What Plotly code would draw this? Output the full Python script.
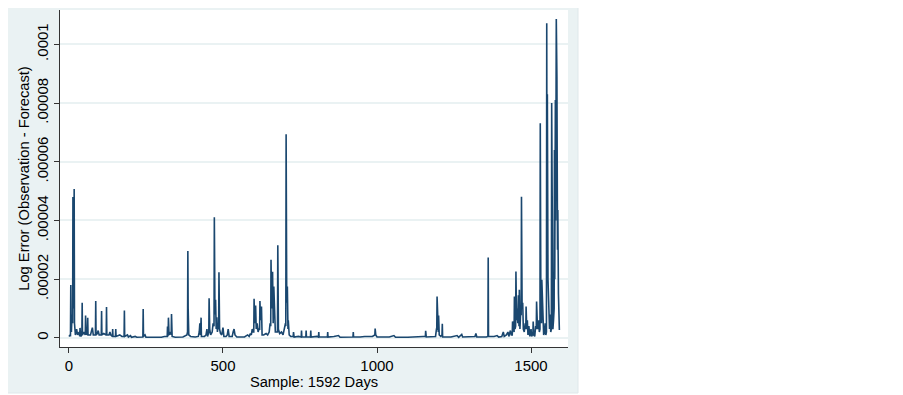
import plotly.graph_objects as go

# Day index and log error (observation - forecast, in units of 1e-6)
days = [0, 4, 5, 6, 7, 8, 10, 12, 13, 15, 17, 18, 19, 21, 25, 28, 33, 35, 36, 38, 42, 43, 44, 48, 51, 53, 54,
        56, 57, 60, 61, 62, 70, 73, 76, 79, 86, 87, 88, 92, 95, 98, 105, 106, 107, 113, 121, 122, 123, 130, 133,
        136, 141, 142, 143, 151, 152, 153, 165, 172, 179, 180, 181, 190, 193, 200, 203, 215, 220, 240, 241, 242,
        247, 250, 300, 310, 319, 320, 321, 322, 323, 325, 330, 332, 333, 335, 345, 370, 383, 385, 386, 387, 389,
        395, 410, 420, 423, 425, 427, 429, 430, 440, 445, 448, 450, 452, 454, 455, 457, 460, 465, 468, 471, 472,
        474, 476, 478, 480, 482, 484, 486, 487, 489, 492, 496, 500, 503, 510, 514, 517, 520, 530, 533, 536, 539,
        545, 570, 580, 585, 589, 592, 595, 598, 600, 601, 603, 606, 608, 611, 614, 617, 619, 620, 622, 625, 627,
        632, 640, 645, 650, 653, 655, 656, 658, 661, 663, 665, 667, 670, 674, 677, 678, 680, 684, 690, 695, 700,
        703, 704, 705, 707, 709, 711, 712, 715, 720, 728, 729, 731, 745, 754, 755, 756, 769, 770, 771, 784, 785,
        786, 805, 810, 811, 812, 839, 840, 841, 860, 875, 880, 900, 922, 923, 924, 945, 960, 985, 990, 993, 994,
        996, 1000, 1040, 1055, 1060, 1100, 1130, 1150, 1157, 1158, 1160, 1180, 1190, 1193, 1194, 1195, 1197,
        1199, 1200, 1202, 1207, 1211, 1212, 1213, 1240, 1260, 1265, 1275, 1278, 1300, 1318, 1321, 1324, 1355,
        1360, 1361, 1362, 1380, 1390, 1395, 1405, 1410, 1413, 1420, 1425, 1428, 1433, 1436, 1439, 1440, 1443,
        1445, 1446, 1448, 1450, 1451, 1453, 1455, 1457, 1459, 1461, 1462, 1464, 1466, 1468, 1469, 1471, 1473,
        1475, 1478, 1481, 1483, 1484, 1486, 1488, 1490, 1493, 1496, 1500, 1502, 1504, 1506, 1507, 1509, 1512,
        1515, 1517, 1518, 1521, 1524, 1527, 1529, 1530, 1532, 1534, 1535, 1538, 1541, 1544, 1546, 1548, 1550,
        1551, 1552, 1553, 1555, 1557, 1560, 1562, 1564, 1566, 1567, 1569, 1571, 1573, 1575, 1576, 1577, 1579,
        1580, 1582, 1584, 1586, 1587, 1589, 1590, 1592]

log_error_e6 = [0.5, 1, 0.5, 18, 3, 2, 8, 5, 48, 10, 50.7, 5, 4, 1, 3, 1, 2, 0.5, 3.4, 0.5, 1, 12, 1, 2, 1, 1, 7.6,
                1, 2, 1, 6.9, 1, 1, 3, 3.5, 1, 1, 12.6, 1, 1.5, 2.5, 1, 1, 9.2, 1, 1.5, 1, 10.5, 1, 1, 2,
                1, 0.5, 3, 0.5, 0.5, 3, 0.5, 1, 0.5, 0.5, 9.3, 0.5, 1, 0.3, 0.8, 0.2, 0.5, 0.2, 0.3, 9.8, 0.5,
                1, 0.2, 0.2, 0.5, 0.5, 3.9, 0.5, 1, 6.9, 1, 2, 1, 8.1, 0.5, 0.2, 0.3, 1, 2, 29.6, 10, 1,
                0.5, 0.3, 0.5, 2, 5, 1, 6.9, 0.5, 0.5, 1, 3, 0.5, 2, 2, 13.5, 3, 1, 2, 5, 4, 41.1,
                8, 13, 3, 7, 2, 4, 3, 22.4, 3, 1.5, 1, 3.5, 0.5, 0.5, 1, 3, 0.5, 0.5, 2, 3, 1,
                0.3, 0.3, 1, 0.5, 1.5, 1, 3, 2, 2, 13.3, 5, 11, 3, 5, 2, 3, 3, 12.6, 6, 10.7, 1,
                1, 1.5, 1, 2, 5, 4, 26.6, 10, 22.5, 5, 17.5, 12, 2, 2, 2, 31.6, 3, 1.5, 2, 1, 3,
                5, 4, 69.4, 12, 17.5, 3, 6, 1, 0.5, 0.5, 2, 0.3, 0.5, 0.3, 2.5, 0.3, 0.3, 2.5, 0.3, 0.3, 2.5,
                0.3, 0.5, 0.3, 2, 0.3, 0.3, 2, 0.3, 0.5, 0.8, 0.2, 0.3, 0.3, 2, 0.3, 0.3, 0.5, 0.5, 1, 1, 3.2,
                1, 0.3, 0.3, 0.8, 0.2, 0.2, 0.5, 0.5, 0.5, 2.4, 0.3, 0.3, 0.5, 3, 3, 14.1, 2,
                2, 7.6, 1, 0.5, 1, 4.8, 0.3, 0.3, 0.8, 0.2, 1.2, 0.3, 0.3, 0.5, 1.5, 0.3, 0.3,
                0.5, 27.4, 0.5, 0.5, 0.8, 0.3, 0.5, 2, 0.5, 1, 2, 0.5, 2.5, 1, 1, 5.6, 2,
                2, 14.1, 3, 4, 22.6, 6, 10, 5, 14.5, 4, 16.4, 3, 8, 8, 48.1, 10, 12,
                3, 2, 5, 3, 10.7, 3, 6, 1, 4, 0.5, 3, 0.5, 1, 1, 5.6, 1, 0.5,
                4, 3, 12.4, 3, 6, 2, 3, 73.1, 8, 5, 19.8, 5, 1, 2, 5, 1, 2,
                107.2, 30, 83, 20, 8, 3, 8, 2, 3, 80, 15, 3, 6, 10, 64, 20, 81,
                40, 108.6, 89, 30, 43.6, 15, 12, 2.7]

log_error = [v * 1e-6 for v in log_error_e6]

x_ticks = [0, 500, 1000, 1500]
y_ticks = [0, 0.00002, 0.00004, 0.00006, 0.00008, 0.0001]
y_tick_labels = ["0", ".00002", ".00004", ".00006", ".00008", ".0001"]

BG = "#eaf2f3"
LINE = "#1a476f"

fig = go.Figure()
fig.add_trace(go.Scatter(x=days, y=log_error, mode="lines",
                         line=dict(color=LINE, width=1.6), showlegend=False))

fig.update_layout(
    width=903, height=395,
    margin=dict(l=52, r=343, t=2, b=56),
    paper_bgcolor="white",
    plot_bgcolor="rgba(0,0,0,0)",
    font=dict(family="Arial, Liberation Sans, sans-serif", size=15, color="black"),
    shapes=[
        dict(type="rect", xref="paper", yref="paper", x0=-0.118, x1=1.0197, y0=-0.1365, y1=1.0297,
             fillcolor=BG, line=dict(color="#dfe8ea", width=1), layer="below"),
        dict(type="rect", xref="paper", yref="paper", x0=0, x1=1, y0=0, y1=1,
             fillcolor="white", line=dict(width=0), layer="below"),
    ],
)

fig.update_xaxes(
    range=[-29, 1620],
    tickvals=x_ticks, ticktext=[str(v) for v in x_ticks],
    showgrid=False, zeroline=False,
    showline=True, linecolor="#333333", linewidth=1,
    ticks="outside", ticklen=5, tickcolor="#333333",
    title=dict(text="Sample: 1592 Days", standoff=0, font=dict(size=14.7)),
    tickfont=dict(size=15),
)
fig.update_yaxes(
    range=[-0.0000031, 0.0001117],
    tickvals=y_ticks, ticktext=y_tick_labels, tickangle=-90,
    showgrid=True, gridcolor=BG, gridwidth=1.5, zeroline=False,
    showline=True, linecolor="#333333", linewidth=1,
    ticks="outside", ticklen=5, tickcolor="#333333",
    title=dict(text="Log Error (Observation - Forecast)", standoff=0, font=dict(size=14.7)),
    tickfont=dict(size=15),
)

fig.write_html("out.html")
